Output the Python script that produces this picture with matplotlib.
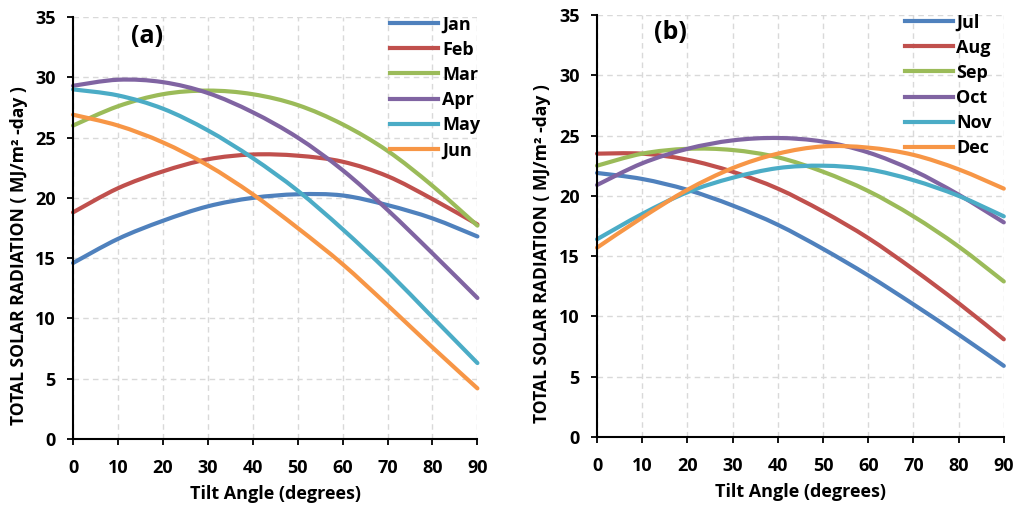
import numpy as np
import matplotlib
matplotlib.use('Agg')
import matplotlib.pyplot as plt
from matplotlib.path import Path
from matplotlib.patches import PathPatch
from matplotlib.lines import Line2D

# tilt angle (degrees)
tilt = [0, 10, 20, 30, 40, 50, 60, 70, 80, 90]

# panel (a) Jan-Jun
jan = [14.6, 16.6, 18.1, 19.3, 20.0, 20.3, 20.2, 19.4, 18.3, 16.8]
feb = [18.8, 20.8, 22.2, 23.2, 23.6, 23.5, 23.0, 21.8, 19.9, 17.8]
mar = [26.0, 27.6, 28.6, 28.9, 28.6, 27.7, 26.1, 23.9, 21.0, 17.7]
apr = [29.3, 29.8, 29.6, 28.7, 27.1, 25.0, 22.3, 19.0, 15.4, 11.7]
may = [29.0, 28.5, 27.4, 25.6, 23.3, 20.6, 17.4, 13.9, 10.1, 6.3]
jun = [26.9, 26.0, 24.6, 22.7, 20.3, 17.5, 14.5, 11.1, 7.6, 4.2]

# panel (b) Jul-Dec
jul = [21.9, 21.4, 20.5, 19.2, 17.6, 15.6, 13.4, 11.0, 8.5, 5.9]
aug = [23.5, 23.5, 23.0, 22.0, 20.6, 18.7, 16.5, 13.9, 11.1, 8.1]
sep = [22.5, 23.5, 23.9, 23.8, 23.2, 22.0, 20.4, 18.3, 15.8, 12.9]
oct_ = [20.9, 22.7, 23.9, 24.6, 24.8, 24.5, 23.6, 22.1, 20.1, 17.8]
nov = [16.4, 18.5, 20.3, 21.5, 22.3, 22.5, 22.2, 21.3, 20.0, 18.3]
dec = [15.7, 18.2, 20.5, 22.3, 23.5, 24.1, 24.0, 23.4, 22.2, 20.6]

colors = ['#4F81BD', '#C0504D', '#9BBB59', '#8064A2', '#4BACC6', '#F79646']

plt.rcParams['font.family'] = ['Open Sans', 'DejaVu Sans']
plt.rcParams['font.weight'] = 'bold'


# smoothed line like excel (bezier through the data points)
def smooth_path(x, y):
    p = np.column_stack([x, y]).astype(float)
    verts = [p[0]]
    codes = [Path.MOVETO]
    n = len(p)
    for i in range(n - 1):
        p0 = p[i - 1] if i > 0 else p[i]
        p3 = p[i + 2] if i + 2 < n else p[i + 1]
        c1 = p[i] + (p[i + 1] - p0) / 6
        c2 = p[i + 1] - (p3 - p[i]) / 6
        verts += [c1, c2, p[i + 1]]
        codes += [Path.CURVE4] * 3
    return Path(verts, codes)


fig = plt.figure(figsize=(10.16, 5.09), dpi=100)
axa = fig.add_axes([0.0719, 0.1375, 0.398, 0.829])
axb = fig.add_axes([0.5876, 0.1415, 0.4004, 0.829])

panels = [
    (axa, '(a)', ['Jan', 'Feb', 'Mar', 'Apr', 'May', 'Jun'], [jan, feb, mar, apr, may, jun], 0.785, 0.182, 0.955),
    (axb, '(b)', ['Jul', 'Aug', 'Sep', 'Oct', 'Nov', 'Dec'], [jul, aug, sep, oct_, nov, dec], 0.757, 0.18, 0.958),
]

for ax, tag, names, series, lx, tx, ty in panels:
    handles = []
    for name, s, c in zip(names, series, colors):
        ax.add_patch(PathPatch(smooth_path(tilt, s), fc='none', ec=c, lw=3,
                               capstyle='round', clip_on=False))
        handles.append(Line2D([], [], color=c, lw=3, label=name))
    ax.set_xlim(0, 90)
    ax.set_ylim(0, 35)
    ax.set_xticks(range(0, 91, 10))
    ax.set_yticks(range(0, 36, 5))
    ax.grid(True, ls=(0, (4, 3)), color='#d9d9d9', lw=1)
    ax.set_axisbelow(True)
    for sp in ['top', 'right']:
        ax.spines[sp].set_visible(False)
    for sp in ['left', 'bottom']:
        ax.spines[sp].set_linewidth(1.5)
    ax.tick_params(direction='out', length=4.5, width=1.3, labelsize=13)
    ax.tick_params(axis='x', pad=10)
    ax.tick_params(axis='y', pad=8)
    for lb in ax.get_xticklabels() + ax.get_yticklabels():
        lb.set_fontweight('bold')
    ax.set_xlabel('Tilt Angle (degrees)', fontsize=13, fontweight='bold')
    ax.set_ylabel('TOTAL SOLAR RADIATION ( MJ/m\u00b2 -day )', fontsize=12.6, fontweight='bold')
    ax.xaxis.set_label_coords(0.5, -0.11)
    ax.yaxis.set_label_coords(-0.112, 0.435)
    ax.text(tx, ty, tag, transform=ax.transAxes, fontsize=18, fontweight='bold',
            ha='center', va='center')
    ax.legend(handles=handles, loc='upper left', bbox_to_anchor=(lx, 1.004), frameon=False,
              handlelength=2.65, handletextpad=0.2, labelspacing=0.4, borderaxespad=0,
              borderpad=0, prop={'weight': 'bold', 'size': 13})

fig.savefig('out.png', dpi=100)
